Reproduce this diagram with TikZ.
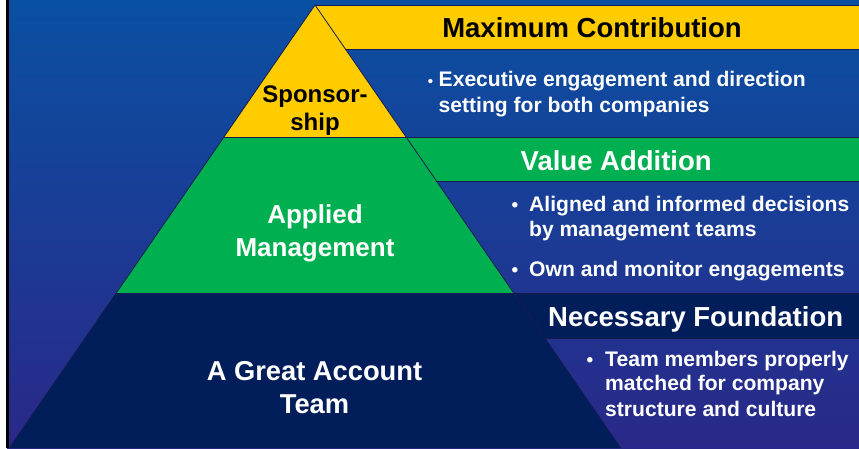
\documentclass[tikz,border=0pt]{standalone}
\usepackage{fontspec}
\setmainfont{Liberation Sans}
\definecolor{ylw}{RGB}{255,204,0}
\definecolor{grn}{RGB}{0,176,80}
\definecolor{navy}{RGB}{2,30,90}
\definecolor{edgec}{RGB}{22,28,82}
\definecolor{bgtop}{RGB}{10,80,162}
\definecolor{bgbot}{RGB}{42,40,136}
\begin{document}
\begin{tikzpicture}[x=1pt,y=-1pt,
  edgeline/.style={draw=edgec,line width=0.8pt},
  hd/.style={inner sep=0pt,font=\fontsize{27.5}{30}\bfseries\selectfont},
  tierlbl/.style={inner sep=0pt,anchor=base,text=white,font=\fontsize{26}{30}\bfseries\selectfont},
  btxt/.style={inner sep=0pt,anchor=base west,text=white,font=\fontsize{21.1}{24}\bfseries\selectfont},
  bdot/.style={inner sep=0pt,anchor=base,text=white,font=\fontsize{19}{22}\bfseries\selectfont}]
\useasboundingbox (0,0) rectangle (859,448);
% background
\fill[white] (0,0) rectangle (7,448);
\shade[top color=bgtop,bottom color=bgbot] (7,0) rectangle (859,448);
\fill[black] (6,0) rectangle (8.5,448);
% tiers with bars
\fill[ylw] (315,5) -- (859,5) -- (859,49) -- (345.4,49) -- (406,137) -- (224,137) -- cycle;
\fill[grn] (224,137) -- (859,137) -- (859,181) -- (436.4,181) -- (514,293) -- (116,293) -- cycle;
\fill[navy] (116,293) -- (859,293) -- (859,338) -- (545,338) -- (620.7,448) -- (9.3,448) -- cycle;
% edges
\draw[edgeline] (9.3,448) -- (315,5) -- (620.7,448);
\draw[edgeline] (315,5) -- (859,5);
\draw[edgeline] (345.4,49) -- (859,49);
\draw[edgeline] (224,137) -- (859,137);
\draw[edgeline] (436.4,181) -- (859,181);
\draw[edgeline] (116,293) -- (859,293);
\draw[edgeline] (545,338) -- (859,338);
% headings
\node[hd,anchor=base,text=black] (maxc) at (592,37.5) {Maximum Contribution};
\node[hd,anchor=base west,text=white] (vadd) at (520.5,170) {Value Addition};
\node[hd,anchor=base west,text=white] (nfound) at (548,326.7) {Necessary Foundation};
% tier labels
\node[tierlbl,text=black,font=\fontsize{24}{28}\bfseries\selectfont] (sp1) at (315,102) {Sponsor-};
\node[tierlbl,text=black,font=\fontsize{24}{28}\bfseries\selectfont] (sp2) at (315,130) {ship};
\node[tierlbl] (am1) at (315,223) {Applied};
\node[tierlbl] (am2) at (315,256) {Management};
\node[tierlbl,font=\fontsize{27.3}{30}\bfseries\selectfont] (gt1) at (314.5,380) {A Great Account};
\node[tierlbl,font=\fontsize{27.3}{30}\bfseries\selectfont] (gt2) at (314.5,413) {Team};
% bullets, top
\node[bdot,font=\fontsize{15}{18}\bfseries\selectfont] (b1) at (430.5,86.7) {•};
\node[btxt] (b1l1) at (438.5,86.7) {Executive engagement and direction};
\node[btxt] (b1l2) at (438.5,112) {setting for both companies};
% bullets, middle
\node[bdot] (b2) at (515,211.7) {•};
\node[btxt] (b2l1) at (529,211.7) {Aligned and informed decisions};
\node[btxt] (b2l2) at (529,236.7) {by management teams};
\node[bdot] (b3) at (515,276) {•};
\node[btxt] (b3l1) at (529,276) {Own and monitor engagements};
% bullets, bottom
\node[bdot] (b4) at (590,366) {•};
\node[btxt] (b4l1) at (605,366) {Team members properly};
\node[btxt] (b4l2) at (605,390.7) {matched for company};
\node[btxt] (b4l3) at (605,416.7) {structure and culture};
\end{tikzpicture}
\end{document}
